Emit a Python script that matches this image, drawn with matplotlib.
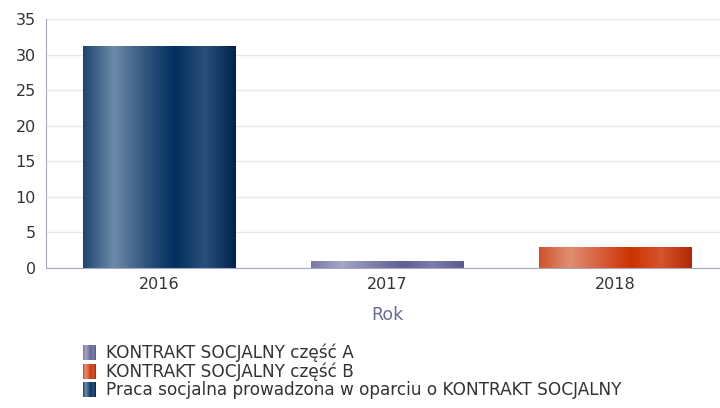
import matplotlib.pyplot as plt
import numpy as np
from matplotlib.colors import LinearSegmentedColormap
from matplotlib.patches import Rectangle
from matplotlib.legend_handler import HandlerBase

plt.rcParams['font.family'] = ['DejaVu Sans']

years = ['2016', '2017', '2018']
values = [31.3, 1.0, 2.9]
series = ['Praca socjalna prowadzona w oparciu o KONTRAKT SOCJALNY',
          'KONTRAKT SOCJALNY część A',
          'KONTRAKT SOCJALNY część B']
legend_order = [1, 2, 0]

# cylinder-like shading for each bar (left -> right)
stops = {
    series[0]: ['#1d4670', '#6d89a8', '#35587f', '#002f5f', '#2a4f78', '#00234d'],
    series[1]: ['#7a7aa6', '#a4a4c6', '#8080ac', '#5f5f94', '#7d7dac', '#5a5a8c'],
    series[2]: ['#d0532b', '#e08e73', '#d75f3b', '#cc3300', '#d5552f', '#b02800'],
}
cmaps = {k: LinearSegmentedColormap.from_list(k, v) for k, v in stops.items()}

fig = plt.figure(figsize=(7.2, 4.08), dpi=100)
ax = fig.add_axes([45.75 / 720, (408 - 267.7) / 408, 683 / 720, 248.4 / 408])

width = 0.67
grad = np.linspace(0, 1, 256).reshape(1, -1)
for i, (y, v, s) in enumerate(zip(years, values, series)):
    bar = ax.bar(i, v, width=width, color='none', edgecolor='none', zorder=2)[0]
    im = ax.imshow(grad, cmap=cmaps[s], aspect='auto',
                   extent=[i - width / 2, i + width / 2, 0, v], zorder=2)
    im.set_clip_path(bar)

ax.set_xlim(-0.5, 2.5)
ax.set_ylim(0, 35)
ax.set_yticks(range(0, 36, 5))
ax.set_xticks(range(len(years)))
ax.set_xticklabels(years)
ax.grid(axis='y', color='#e6e6ee', linewidth=1, zorder=0)
ax.set_axisbelow(True)
for sp in ['top', 'right']:
    ax.spines[sp].set_visible(False)
for sp in ['left', 'bottom']:
    ax.spines[sp].set_color('#a8a8c4')
ax.tick_params(length=0, labelsize=11.5, colors='#333333', pad=7)
ax.set_xlabel('Rok', fontsize=12.5, color='#6b6b99', labelpad=10)


class GradHandler(HandlerBase):
    def create_artists(self, legend, orig, xd, yd, w, h, fontsize, trans):
        cm = cmaps[orig.get_label()]
        n = 14
        hh = 11.0  # points
        y0 = -yd + (h - hh) / 2
        arts = []
        for k in range(n):
            r = Rectangle((-xd + w * k / n, y0), w / n + 0.05, hh,
                          facecolor=cm((k + 0.5) / n), edgecolor='none',
                          transform=trans)
            arts.append(r)
        return arts


handles = [Rectangle((0, 0), 1, 1, label=series[j]) for j in legend_order]
fig.legend(handles=handles, labels=[series[j] for j in legend_order],
           handler_map={Rectangle: GradHandler()},
           loc='upper left', bbox_to_anchor=(76 / 720, 1 - 337 / 408),
           frameon=False, fontsize=12.2, handlelength=0.8, handleheight=0.9,
           handletextpad=0.55, labelspacing=0.02, borderaxespad=0,
           labelcolor='#333333')

fig.savefig('out.png', dpi=100)
